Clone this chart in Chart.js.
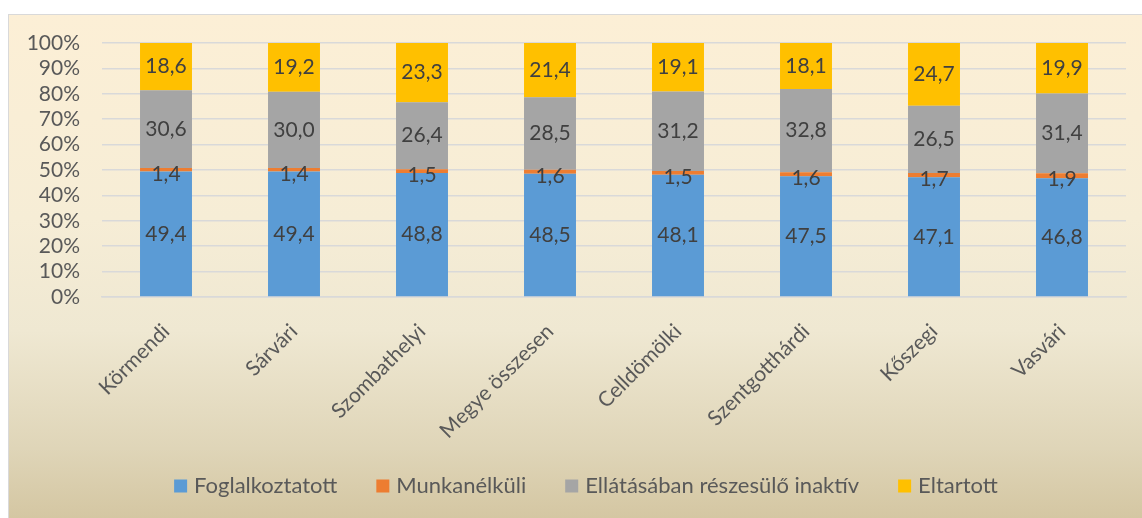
<!DOCTYPE html>
<html>
<head>
<meta charset="utf-8">
<script src="https://cdn.jsdelivr.net/npm/chart.js@4"></script>
<style>
html, body { margin:0; padding:0; background:#fff; }
#wrap { position:absolute; left:0; top:0; width:1142px; height:518px; overflow:hidden; }
#bg { position:absolute; left:8px; top:14px; width:1140px; height:510px; border:1px solid #D9D9D9;
  background: linear-gradient(to bottom, #FCEFD6 0%, #F6EDD6 40%, #EFE8D2 62%, #DFD5B8 85%, #D3C5A0 100%); }
#myChart { position:absolute; left:0; top:0; }
</style>
</head>
<body>
<div id="wrap">
<div id="bg"></div>
<canvas id="myChart" width="1142" height="518"></canvas>
</div>
<script>
var categories = ["Körmendi", "Sárvári", "Szombathelyi", "Megye összesen", "Celldömölki", "Szentgotthárdi", "Kőszegi", "Vasvári"];
var foglalkoztatott = [49.4, 49.4, 48.8, 48.5, 48.1, 47.5, 47.1, 46.8];
var munkanelkuli = [1.4, 1.4, 1.5, 1.6, 1.5, 1.6, 1.7, 1.9];
var inaktiv = [30.6, 30.0, 26.4, 28.5, 31.2, 32.8, 26.5, 31.4];
var eltartott = [18.6, 19.2, 23.3, 21.4, 19.1, 18.1, 24.7, 19.9];
var yTicks = [0, 10, 20, 30, 40, 50, 60, 70, 80, 90, 100];

var fontName = "Lato";
var textColor = "#595959";

// share of each category total, so every bar reaches 100%
function share(arr, i) {
  var total = foglalkoztatott[i] + munkanelkuli[i] + inaktiv[i] + eltartott[i];
  return arr[i] / total * 100;
}
function toShares(arr) {
  var out = [];
  for (var i = 0; i < arr.length; i++) out.push(share(arr, i));
  return out;
}

var rawValues = [foglalkoztatott, munkanelkuli, inaktiv, eltartott];

var barLabels = {
  id: 'barLabels',
  afterDatasetsDraw: function(chart) {
    var c = chart.ctx;
    c.save();
    c.font = "21px " + fontName;
    c.fillStyle = "#404040";
    c.textAlign = "center";
    c.textBaseline = "middle";
    chart.data.datasets.forEach(function(ds, di) {
      var meta = chart.getDatasetMeta(di);
      meta.data.forEach(function(el, i) {
        var txt = rawValues[di][i].toFixed(1).replace('.', ',');
        var y = (el.y + el.base) / 2;
        if (di == 1) y = y + 4;
        c.fillText(txt, el.x, y);
      });
    });
    c.restore();
  }
};

// legend drawn by hand, the built in one can't do the wide gaps between items
var bottomLegend = {
  id: 'bottomLegend',
  afterDraw: function(chart) {
    var c = chart.ctx;
    var box = 13, gap = 7, itemGap = 39, cy = 486, center = 586;
    c.save();
    c.font = "22px " + fontName;
    c.textBaseline = "middle";
    var widths = [], total = 0;
    chart.data.datasets.forEach(function(ds, i) {
      var w = box + gap + c.measureText(ds.label).width;
      widths.push(w);
      total += w;
      if (i > 0) total += itemGap;
    });
    var x = center - total / 2;
    chart.data.datasets.forEach(function(ds, i) {
      c.fillStyle = ds.backgroundColor;
      c.fillRect(x, cy - box / 2, box, box);
      c.fillStyle = textColor;
      c.fillText(ds.label, x + box + gap, cy);
      x += widths[i] + itemGap;
    });
    c.restore();
  }
};

var ctx = document.getElementById("myChart");
var myBarChart = new Chart(ctx, {
  type: 'bar',
  data: {
    labels: categories,
    datasets: [
      { label: "Foglalkoztatott", data: toShares(foglalkoztatott), backgroundColor: "#5B9BD5" },
      { label: "Munkanélküli", data: toShares(munkanelkuli), backgroundColor: "#ED7D31" },
      { label: "Ellátásában részesülő inaktív", data: toShares(inaktiv), backgroundColor: "#A5A5A5" },
      { label: "Eltartott", data: toShares(eltartott), backgroundColor: "#FFC000" }
    ]
  },
  options: {
    responsive: false,
    animation: false,
    devicePixelRatio: 1,
    layout: { padding: { left: 0, top: 43, right: 16, bottom: 60 } },
    datasets: { bar: { categoryPercentage: 1, barPercentage: 0.406 } },
    scales: {
      x: {
        stacked: true,
        grid: { display: false, drawTicks: false },
        border: { display: true, color: "#D9D9D9", width: 1.5 },
        ticks: { color: textColor, font: { family: fontName, size: 21 }, minRotation: 45, maxRotation: 45, padding: 22 },
        afterFit: function(scale) { scale.height = 161; }
      },
      y: {
        stacked: true,
        min: 0,
        max: 100,
        grid: { color: "#D9D9D9", lineWidth: 1.5, drawTicks: false },
        border: { display: false },
        afterBuildTicks: function(scale) {
          scale.ticks = yTicks.map(function(v) { return { value: v }; });
        },
        ticks: {
          color: textColor,
          font: { family: fontName, size: 21 },
          padding: 22,
          autoSkip: false,
          callback: function(v) { return v + "%"; }
        },
        afterFit: function(scale) { scale.width = 102; }
      }
    },
    plugins: {
      legend: { display: false },
      tooltip: { enabled: false }
    }
  },
  plugins: [barLabels, bottomLegend]
});
</script>
</body>
</html>
